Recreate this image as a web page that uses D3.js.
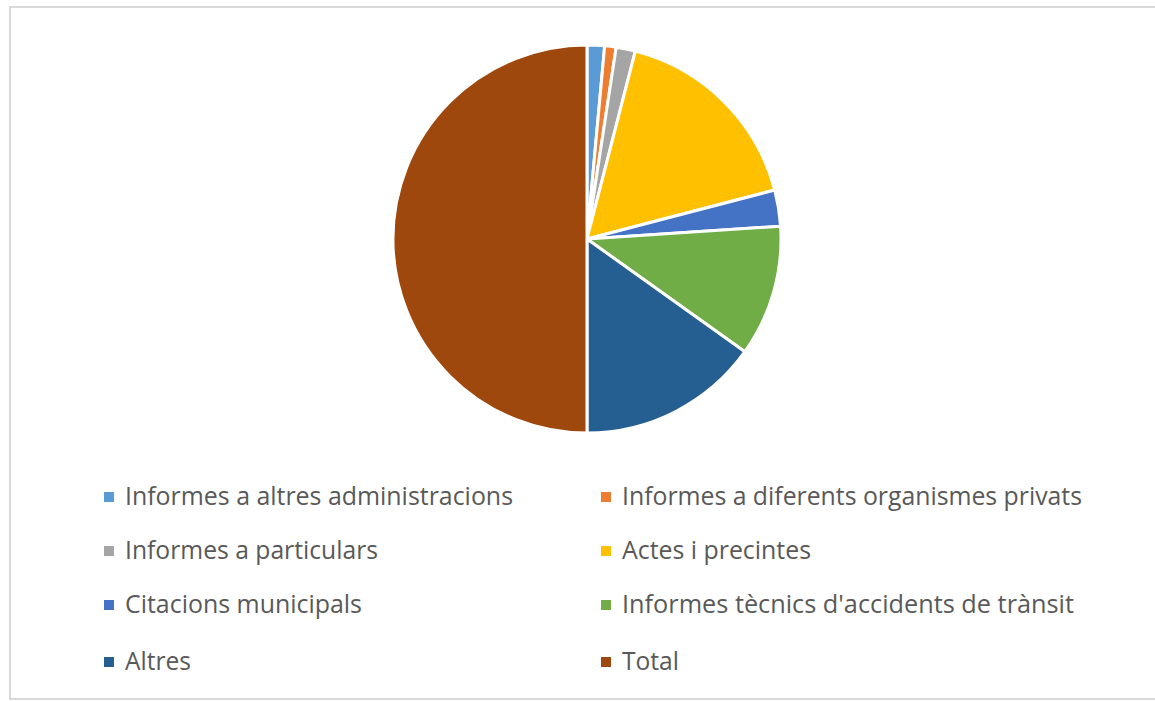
<!DOCTYPE html>
<html>
<head>
<meta charset="utf-8">
<script src="https://cdn.jsdelivr.net/npm/d3@7"></script>
<style>
  html, body { margin: 0; padding: 0; background: #fff; }
  svg { display: block; }
</style>
</head>
<body>
<div id="chart"></div>
<script>
    "use strict";

    var categories = [
        "Informes a altres administracions",
        "Informes a diferents organismes privats",
        "Informes a particulars",
        "Actes i precintes",
        "Citacions municipals",
        "Informes tècnics d'accidents de trànsit",
        "Altres",
        "Total"
    ];
    var values = [29, 19, 32, 338, 60, 218, 302, 998];
    var colors = ["#5B9BD5", "#ED7D31", "#A5A5A5", "#FFC000", "#4472C4", "#70AD47", "#255E91", "#9E480E"];
    // legend text widths as measured on the reference
    var labelWidths = [388, 460, 253, 189, 237, 452, 66, 57];

    var w = 1155,
        h = 701,
        cx = 587,
        cy = 239,
        radius = 194;

    var svg = d3.select("#chart")
        .append("svg")
        .attr("width", w)
        .attr("height", h);

    // chart frame
    svg.append("rect")
        .attr("x", 10)
        .attr("y", 7)
        .attr("width", w)
        .attr("height", 692)
        .attr("fill", "#fff")
        .attr("stroke", "#D9D9D9")
        .attr("stroke-width", 2);

    var pie = d3.pie().sort(null).value(function (d) { return d; });
    var arc = d3.arc().innerRadius(0).outerRadius(radius);

    svg.append("g")
        .attr("transform", "translate(" + cx + "," + cy + ")")
        .selectAll("path")
        .data(pie(values))
        .enter()
        .append("path")
        .attr("d", arc)
        .attr("fill", function (d, i) { return colors[i]; })
        .attr("stroke", "#fff")
        .attr("stroke-width", 3)
        .attr("stroke-linejoin", "round");

    var colX = [125, 622],
        rowY = [505, 559, 613, 670];

    var legend = svg.append("g")
        .selectAll("g")
        .data(categories)
        .enter()
        .append("g")
        .attr("transform", function (d, i) {
            return "translate(" + colX[i % 2] + "," + rowY[Math.floor(i / 2)] + ")";
        });

    legend.append("rect")
        .attr("x", -21)
        .attr("y", -13)
        .attr("width", 10)
        .attr("height", 10)
        .attr("fill", function (d, i) { return colors[i]; });

    legend.append("text")
        .text(function (d) { return d; })
        .attr("x", 0)
        .attr("y", 0)
        .attr("textLength", function (d, i) { return labelWidths[i]; })
        .attr("lengthAdjust", "spacingAndGlyphs")
        .attr("font-family", "'Open Sans', sans-serif")
        .attr("font-size", 25)
        .attr("fill", "#595959");
</script>
</body>
</html>
